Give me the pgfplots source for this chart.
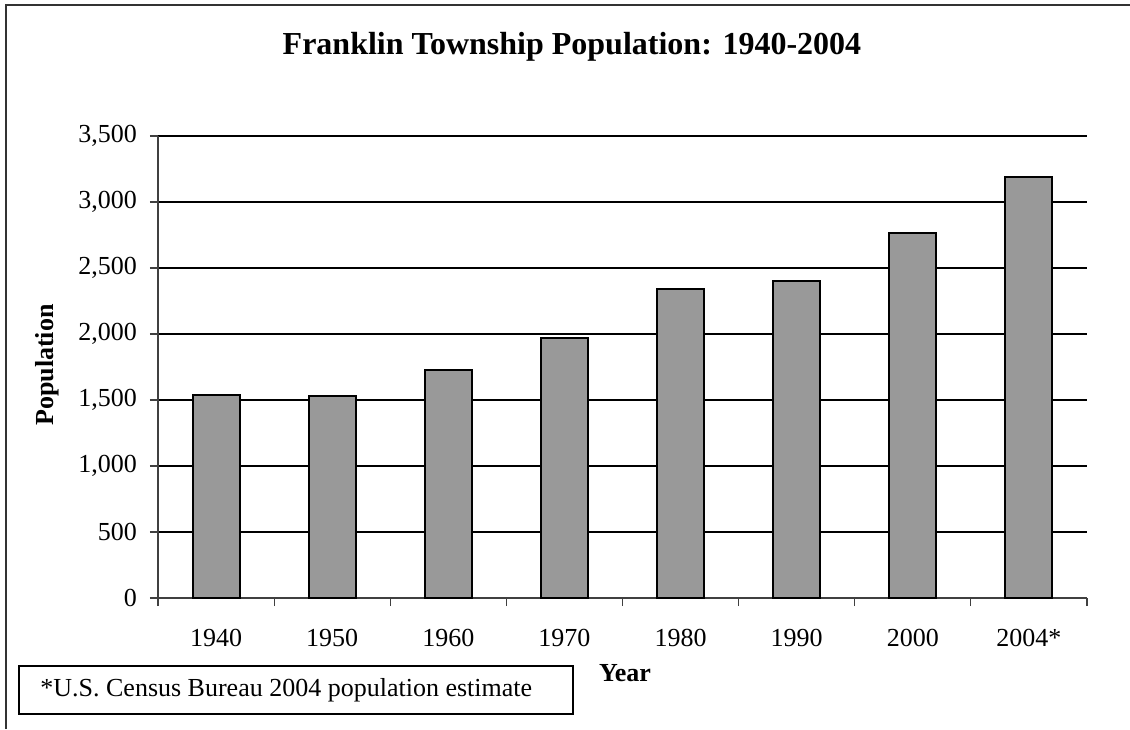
\documentclass[border=0pt]{standalone}
\usepackage{fontspec}
\setmainfont{Liberation Serif}
\usepackage{pgfplots}
\pgfplotsset{compat=1.18}
\definecolor{barfill}{RGB}{153,153,153}
\begin{document}
\begin{tikzpicture}[x=1pt,y=1pt]
\path[use as bounding box] (0,0) rectangle (565,364.5);
\draw[line width=1pt, black!80] (3,0) -- (3,362) -- (565,362);
\begin{axis}[
  at={(79pt,65.5pt)}, anchor=south west,
  scale only axis, width=464.5pt, height=231pt,
  xmin=-0.5, xmax=7.5, ymin=0, ymax=3500,
  axis x line*=bottom, axis y line*=left,
  axis line style={black!75, line width=0.6pt},
  ytick={0,500,...,3500},
  ymajorgrids, grid style={black, line width=0.55pt},
  xtick={0,...,7}, xticklabels={1940,1950,1960,1970,1980,1990,2000,2004*},
  minor xtick={-0.5,0.5,...,7.5},
  tick align=outside, major tick length=4pt, minor tick length=4pt,
  major x tick style={draw=none},
  minor x tick style={draw=black!75, line width=0.6pt},
  y tick style={draw=black!75, line width=0.6pt},
  scaled y ticks=false,
  ticklabel style={font=\fontsize{13}{15}\selectfont},
  /pgf/number format/assume math mode=true,
  yticklabel style={/pgf/number format/1000 sep={,}, xshift=-3pt},
  xticklabel style={yshift=-8pt},
]
\addplot[ybar, bar width=0.405, fill=barfill, draw=black, line width=1pt]
  coordinates {(0,1540) (1,1530) (2,1730) (3,1970) (4,2340) (5,2400) (6,2765) (7,3190)};
\end{axis}
\node[font=\fontsize{16}{19}\selectfont\bfseries] at (286,341) {Franklin Township Population: 1940-2004};
\node[font=\fontsize{13}{15}\selectfont\bfseries, rotate=90] at (23.75,182) {Population};
\node[font=\fontsize{13}{15}\selectfont\bfseries] at (312.5,28) {Year};
\draw[line width=1pt] (9.5,7.5) rectangle (286.5,31.5);
\node[font=\fontsize{13}{15}\selectfont, anchor=west, inner sep=0pt] at (20,19.5) {*U.S. Census Bureau 2004 population estimate};
\end{tikzpicture}
\end{document}
